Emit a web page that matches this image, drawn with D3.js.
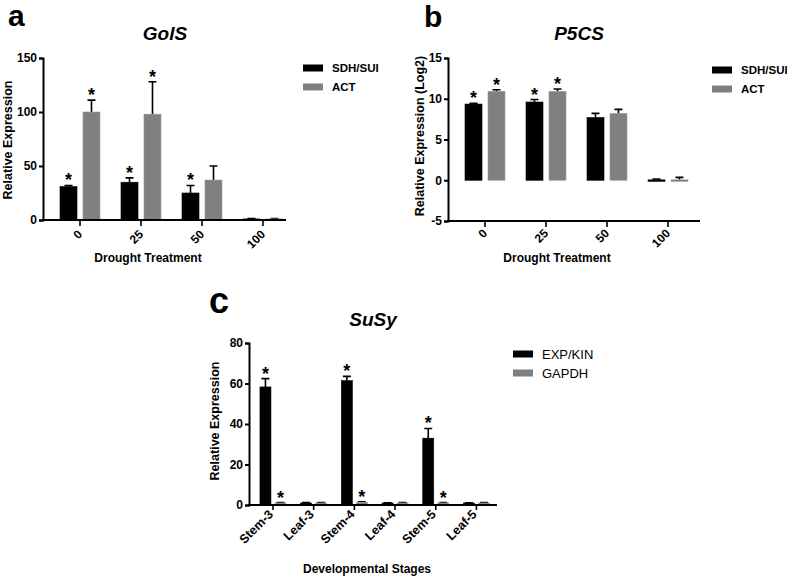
<!DOCTYPE html>
<html>
<head>
<meta charset="utf-8">
<script src="https://cdn.jsdelivr.net/npm/d3@7"></script>
<style>
  body { margin: 0; background: #fff; }
  svg { font-family: "Liberation Sans", Arial, sans-serif; }
</style>
</head>
<body>
<div class="holder"></div>
<script>
// panel a - GolS
var catsA = ['0', '25', '50', '100']
var sdhA = [31, 35, 25, 1]
var sdhErrA = [1, 4, 7, 0.3]
var actA = [100, 98, 37, 1]
var actErrA = [11, 30, 13, 0.3]
var sdhStarA = [1, 1, 1, 0]
var actStarA = [1, 1, 0, 0]
var ticksA = [0, 50, 100, 150]

// panel b - P5CS
var catsB = ['0', '25', '50', '100']
var sdhB = [9.35, 9.6, 7.7, 0.05]
var sdhErrB = [0.1, 0.3, 0.5, 0.1]
var actB = [10.9, 10.9, 8.2, 0.05]
var actErrB = [0.2, 0.3, 0.5, 0.3]
var sdhStarB = [1, 1, 0, 0]
var actStarB = [1, 1, 0, 0]
var ticksB = [-5, 0, 5, 10, 15]

// panel c - SuSy
var catsC = ['Stem-3', 'Leaf-3', 'Stem-4', 'Leaf-4', 'Stem-5', 'Leaf-5']
var expC = [58.3, 1, 61.4, 1, 33, 1]
var expErrC = [4.1, 0.2, 2.1, 0.1, 4.8, 0.1]
var gapdhC = [1, 1, 1.3, 1, 1, 1]
var gapdhErrC = [0.2, 0.2, 0.3, 0.2, 0.2, 0.2]
var expStarC = [1, 0, 1, 0, 1, 0]
var gapdhStarC = [1, 0, 1, 0, 1, 0]
var ticksC = [0, 20, 40, 60, 80]

var chart = d3.select('.holder')
  .append('svg')
  .attr('width', 787)
  .attr('height', 576)

function drawPanel(o) {
  var g = chart.append('g')

  var y = d3.scaleLinear().domain(o.yDomain).range([o.yBottom, o.yTop])
  var x0 = d3.scaleBand().domain(o.cats).range(o.xRange)
  var x1 = d3.scaleBand().domain([0, 1]).range([-o.half, o.half]).paddingInner(o.gap)

  var series = [
    { vals: o.s1, errs: o.e1, stars: o.st1, color: '#000' },
    { vals: o.s2, errs: o.e2, stars: o.st2, color: '#808080' }
  ]

  series.forEach(function(s, si) {
    var base = y(Math.max(o.yDomain[0], 0))
    var rows = s.vals.map(function(v, i) {
      return { cat: o.cats[i], v: v, err: s.errs[i], star: s.stars[i] }
    })
    var cx = function(d) { return x0(d.cat) + x0.bandwidth() / 2 + x1(si) + x1.bandwidth() / 2 }

    // error bars
    g.selectAll('.err' + si)
      .data(rows)
      .enter()
      .append('path')
      .attr('d', function(d) {
        var top = y(d.v + d.err)
        return 'M' + cx(d) + ',' + y(d.v) + 'V' + top + 'M' + (cx(d) - 4) + ',' + top + 'H' + (cx(d) + 4)
      })
      .attr('stroke', '#000')
      .attr('stroke-width', 1.6)
      .attr('fill', 'none')

    g.selectAll('.bar' + si)
      .data(rows)
      .enter()
      .append('rect')
      .attr('x', function(d) { return cx(d) - x1.bandwidth() / 2 })
      .attr('width', x1.bandwidth())
      .attr('y', function(d) { return y(d.v) })
      .attr('height', function(d) { return Math.max(1.5, base - y(d.v)) })
      .attr('fill', s.color)
      .attr('stroke', si == 0 ? '#000' : '#999')
      .attr('stroke-width', 0.6)

    g.selectAll('.star' + si)
      .data(rows.filter(function(d) { return d.star }))
      .enter()
      .append('text')
      .attr('x', cx)
      .attr('y', function(d) { return y(d.v + d.err) + 1 })
      .attr('text-anchor', 'middle')
      .style('font-size', '18px')
      .style('font-weight', 'bold')
      .text('*')
  })

  // y axis
  var yAxis = d3.axisLeft(y).tickValues(o.ticks).tickSize(4).tickPadding(2)
    .tickFormat(function(d) { return String(d) })
  var yChart = g.append('g')
    .attr('transform', 'translate(' + o.axisX + ',0)')
    .call(yAxis)
  yChart.select('.domain').attr('stroke-width', 2)
  yChart.selectAll('.tick line').attr('stroke-width', 2)
  yChart.selectAll('text')
    .style('font-size', '12px')
    .style('font-weight', 'bold')
    .attr('fill', '#000')

  // x axis
  var xAxis = d3.axisBottom(x0).tickSize(o.xTick).tickFormat('')
  var xChart = g.append('g')
    .attr('transform', 'translate(0,' + o.yBottom + ')')
    .call(xAxis)
  xChart.select('.domain').remove()
  xChart.selectAll('.tick line').attr('stroke-width', 1.6)
  xChart.append('line')
    .attr('x1', o.axisX - 1)
    .attr('x2', o.xEnd)
    .attr('stroke', '#000')
    .attr('stroke-width', 2)

  g.selectAll('.xlab')
    .data(o.cats)
    .enter()
    .append('text')
    .attr('transform', function(d) {
      return 'translate(' + (x0(d) + x0.bandwidth() / 2 + o.labDx) + ',' + (o.yBottom + o.labDy) + ') rotate(-45)'
    })
    .attr('text-anchor', 'end')
    .style('font-size', o.labSize)
    .style('font-weight', 'bold')
    .text(function(d) { return d })

  // titles
  g.append('text')
    .attr('transform', 'translate(' + o.yTitleX + ',' + o.yTitleY + ') rotate(-90)')
    .attr('text-anchor', 'middle')
    .style('font-size', '12.5px')
    .style('font-weight', 'bold')
    .text(o.yTitle)

  g.append('text')
    .attr('x', o.xTitleX)
    .attr('y', o.xTitleY)
    .attr('text-anchor', 'middle')
    .style('font-size', '12px')
    .style('font-weight', 'bold')
    .text(o.xTitle)

  g.append('text')
    .attr('x', o.titleX)
    .attr('y', o.titleY)
    .attr('text-anchor', 'middle')
    .style('font-size', '19px')
    .style('font-weight', 'bold')
    .style('font-style', 'italic')
    .text(o.title)

  g.append('text')
    .attr('x', o.letterX)
    .attr('y', o.letterY)
    .style('font-size', o.letterSize)
    .style('font-weight', 'bold')
    .text(o.letter)

  // legend
  var legend = g.append('g')
  o.names.forEach(function(n, i) {
    legend.append('rect')
      .attr('x', o.legX)
      .attr('y', o.legY + i * o.legStep - 3.5)
      .attr('width', 20)
      .attr('height', 7)
      .attr('fill', series[i].color)
    legend.append('text')
      .attr('x', o.legX + 29)
      .attr('y', o.legY + i * o.legStep)
      .attr('dy', '0.36em')
      .style('font-size', o.legSize)
      .style('font-weight', o.legWeight)
      .text(n)
  })
}

drawPanel({
  cats: catsA, s1: sdhA, e1: sdhErrA, st1: sdhStarA, s2: actA, e2: actErrA, st2: actStarA,
  ticks: ticksA, yDomain: [0, 150], yBottom: 220, yTop: 58,
  xRange: [49.5, 293.5], half: 20, gap: 0.26, axisX: 43, xEnd: 286, xTick: 6,
  labDx: 3, labDy: 15, labSize: '12px',
  yTitle: 'Relative Expression', yTitleX: 12, yTitleY: 140,
  xTitle: 'Drought Treatment', xTitleX: 148, xTitleY: 262,
  title: 'GolS', titleX: 165, titleY: 40,
  letter: 'a', letterX: 8, letterY: 26, letterSize: '30px',
  names: ['SDH/SUI', 'ACT'], legX: 303, legY: 68, legStep: 19, legSize: '11.5px', legWeight: 'bold'
})

drawPanel({
  cats: catsB, s1: sdhB, e1: sdhErrB, st1: sdhStarB, s2: actB, e2: actErrB, st2: actStarB,
  ticks: ticksB, yDomain: [-5, 15], yBottom: 221, yTop: 58,
  xRange: [454.5, 698.5], half: 20, gap: 0.26, axisX: 448, xEnd: 700, xTick: 6,
  labDx: 3, labDy: 13, labSize: '12px',
  yTitle: 'Relative Expression (Log2)', yTitleX: 424, yTitleY: 136,
  xTitle: 'Drought Treatment', xTitleX: 557, xTitleY: 262,
  title: 'P5CS', titleX: 579, titleY: 40,
  letter: 'b', letterX: 424, letterY: 27, letterSize: '30px',
  names: ['SDH/SUI', 'ACT'], legX: 712, legY: 70, legStep: 19, legSize: '11.5px', legWeight: 'bold'
})

drawPanel({
  cats: catsC, s1: expC, e1: expErrC, st1: expStarC, s2: gapdhC, e2: gapdhErrC, st2: gapdhStarC,
  ticks: ticksC, yDomain: [0, 80], yBottom: 505, yTop: 343,
  xRange: [252.6, 496.8], half: 13, gap: 0.267, axisX: 249, xEnd: 497, xTick: 5,
  labDx: 1, labDy: 10, labSize: '12.5px',
  yTitle: 'Relative Expression', yTitleX: 219, yTitleY: 421,
  xTitle: 'Developmental Stages', xTitleX: 367, xTitleY: 573,
  title: 'SuSy', titleX: 373, titleY: 326,
  letter: 'c', letterX: 209, letterY: 313, letterSize: '36px',
  names: ['EXP/KIN', 'GAPDH'], legX: 513, legY: 354, legStep: 19, legSize: '13px', legWeight: 'normal'
})
</script>
</body>
</html>
